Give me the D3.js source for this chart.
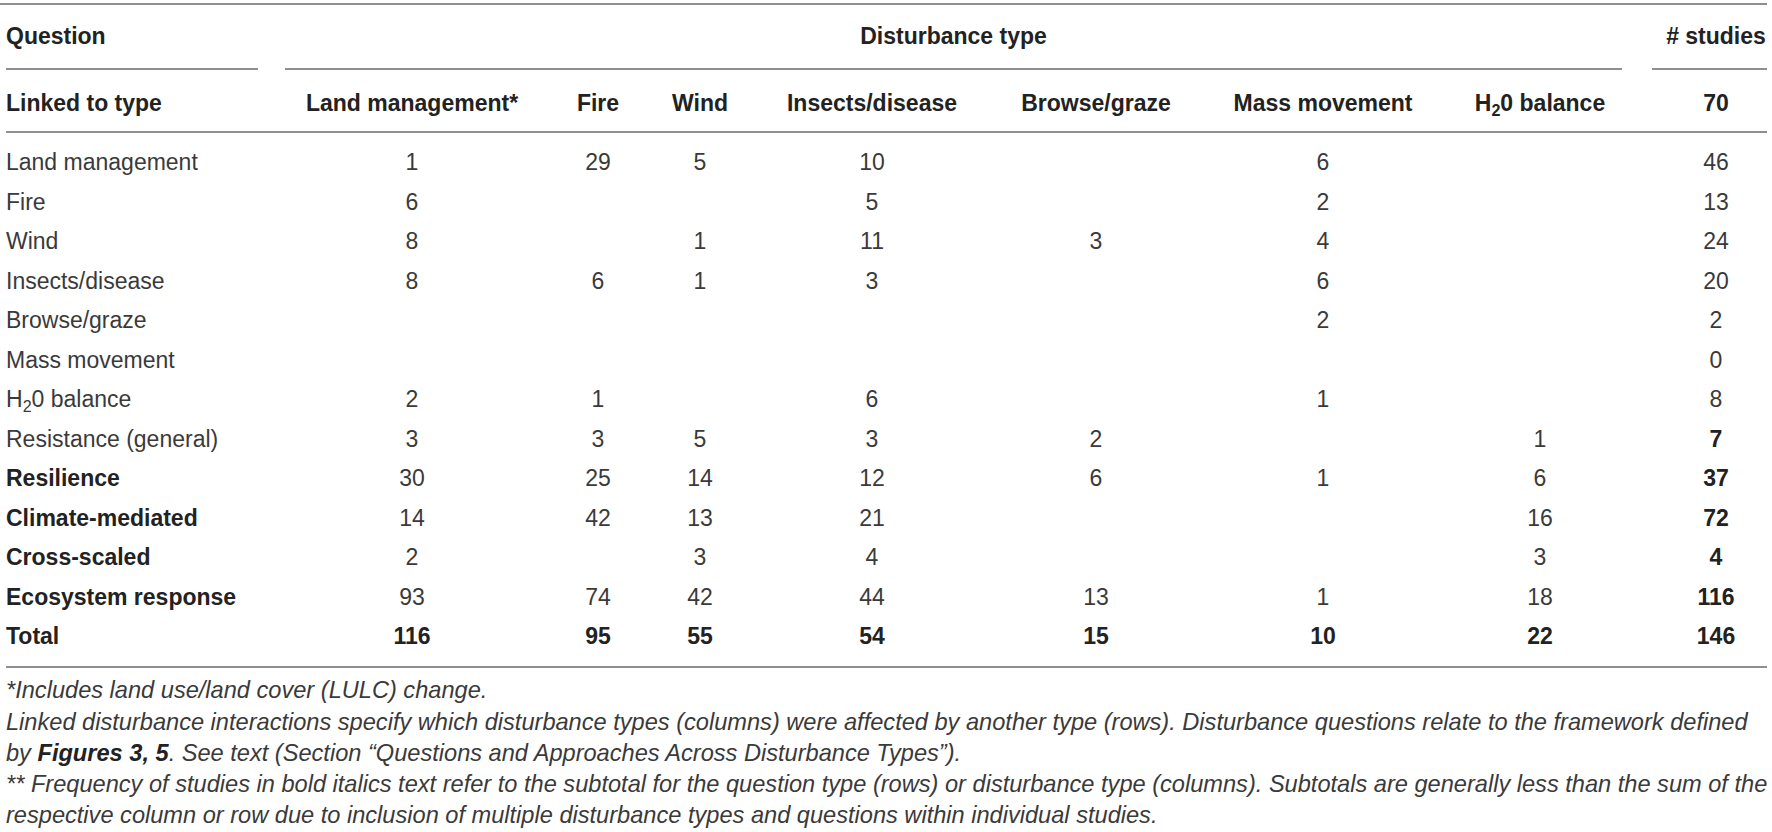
<!DOCTYPE html>
<html>
<head>
<meta charset="utf-8">
<script src="https://cdn.jsdelivr.net/npm/d3@7/dist/d3.min.js"></script>
<style>
  html, body { margin: 0; padding: 0; background: #fff; }
  svg { display: block; }
  text { font-family: "Liberation Sans", Arial, Helvetica, sans-serif; }
</style>
</head>
<body>
<svg id="chart" width="1772" height="832"></svg>
<script>
// ---------- DATA ----------
const columns = ["Land management*", "Fire", "Wind", "Insects/disease", "Browse/graze", "Mass movement", "H2O balance", "# studies"];
const headerTotal = "70";
const rowLabels = ["Land management", "Fire", "Wind", "Insects/disease", "Browse/graze", "Mass movement", "H2O balance",
  "Resistance (general)", "Resilience", "Climate-mediated", "Cross-scaled", "Ecosystem response", "Total"];
const boldRows = ["Resilience", "Climate-mediated", "Cross-scaled", "Ecosystem response", "Total"];
const values = [
  [1, 29, 5, 10, null, 6, null, 46],
  [6, null, null, 5, null, 2, null, 13],
  [8, null, 1, 11, 3, 4, null, 24],
  [8, 6, 1, 3, null, 6, null, 20],
  [null, null, null, null, null, 2, null, 2],
  [null, null, null, null, null, null, null, 0],
  [2, 1, null, 6, null, 1, null, 8],
  [3, 3, 5, 3, 2, null, 1, 7],
  [30, 25, 14, 12, 6, 1, 6, 37],
  [14, 42, 13, 21, null, null, 16, 72],
  [2, null, 3, 4, null, null, 3, 4],
  [93, 74, 42, 44, 13, 1, 18, 116],
  [116, 95, 55, 54, 15, 10, 22, 146]
];
const footnotes = [
  [{t: "*Includes land use/land cover (LULC) change."}],
  [{t: "Linked disturbance interactions specify which disturbance types (columns) were affected by another type (rows). Disturbance questions relate to the framework defined"}],
  [{t: "by "}, {t: "Figures 3, 5", b: true}, {t: ". See text (Section \u201cQuestions and Approaches Across Disturbance Types\u201d)."}],
  [{t: "** Frequency of studies in bold italics text refer to the subtotal for the question type (rows) or disturbance type (columns). Subtotals are generally less than the sum of the"}],
  [{t: "respective column or row due to inclusion of multiple disturbance types and questions within individual studies."}]
];

// ---------- LAYOUT ----------
const svg = d3.select("#chart");
const FS = 23;
const textColor = "#222";
const bodyColor = "#3a3a3a";
const ruleColor = "#8f8f8f";

const x = d3.scaleOrdinal().domain(columns).range([412, 598, 700, 872, 1096, 1323, 1540, 1716]);
const y = d3.scalePoint().domain(rowLabels).range([162, 636]);
const capOff = FS * 0.36;

// rules
const rules = [
  {x1: 0, x2: 1767, y: 4},
  {x1: 6, x2: 258, y: 69},
  {x1: 285, x2: 1622, y: 69},
  {x1: 1652, x2: 1767, y: 69},
  {x1: 6, x2: 1767, y: 132},
  {x1: 6, x2: 1767, y: 667}
];
svg.selectAll("line.rule").data(rules).join("line")
  .attr("class", "rule")
  .attr("x1", d => d.x1).attr("x2", d => d.x2)
  .attr("y1", d => d.y).attr("y2", d => d.y)
  .attr("stroke", ruleColor).attr("stroke-width", 2);

function addLabel(sel, label) {
  if (label.indexOf("H2O") === 0) {
    sel.append("tspan").text("H");
    sel.append("tspan").text("2").attr("font-size", FS * 0.7).attr("dy", FS * 0.22);
    sel.append("tspan").text("0" + label.slice(3)).attr("dy", -FS * 0.22);
  } else {
    sel.text(label);
  }
}

// header row 1
svg.append("text").attr("x", 6).attr("y", 36 + capOff)
  .attr("font-size", FS).attr("font-weight", "bold").attr("fill", textColor).text("Question");
svg.append("text").attr("x", (285 + 1622) / 2).attr("y", 36 + capOff)
  .attr("text-anchor", "middle")
  .attr("font-size", FS).attr("font-weight", "bold").attr("fill", textColor).text("Disturbance type");
svg.append("text").attr("x", x("# studies")).attr("y", 36 + capOff)
  .attr("text-anchor", "middle")
  .attr("font-size", FS).attr("font-weight", "bold").attr("fill", textColor).text("# studies");

// header row 2
const hy = 103 + capOff;
svg.append("text").attr("x", 6).attr("y", hy)
  .attr("font-size", FS).attr("font-weight", "bold").attr("fill", textColor).text("Linked to type");
svg.selectAll("text.colhead").data(columns).join("text")
  .attr("class", "colhead")
  .attr("x", d => x(d)).attr("y", hy)
  .attr("text-anchor", "middle")
  .attr("font-size", FS).attr("font-weight", "bold").attr("fill", textColor)
  .each(function(d) { addLabel(d3.select(this), d === "# studies" ? headerTotal : d); });

// row labels
svg.selectAll("text.rowlab").data(rowLabels).join("text")
  .attr("class", "rowlab")
  .attr("x", 6).attr("y", d => y(d) + capOff)
  .attr("font-size", FS)
  .attr("font-weight", d => boldRows.includes(d) ? "bold" : "normal")
  .attr("fill", d => boldRows.includes(d) ? textColor : bodyColor)
  .each(function(d) { addLabel(d3.select(this), d); });

// cells
const cells = [];
values.forEach((row, i) => row.forEach((v, j) => {
  if (v !== null) cells.push({row: rowLabels[i], col: columns[j], v: v,
    bold: rowLabels[i] === "Total" || (columns[j] === "# studies" && i >= 7)});
}));
svg.selectAll("text.cell").data(cells).join("text")
  .attr("class", "cell")
  .attr("x", d => x(d.col)).attr("y", d => y(d.row) + capOff)
  .attr("text-anchor", "middle")
  .attr("font-size", FS)
  .attr("font-weight", d => d.bold ? "bold" : "normal")
  .attr("fill", d => d.bold ? textColor : bodyColor)
  .text(d => d.v);

// footnotes
const FFS = 23.6;
const fy = d3.scaleLinear().domain([0, footnotes.length - 1]).range([690, 815]);
svg.selectAll("text.foot").data(footnotes).join("text")
  .attr("class", "foot")
  .attr("x", 6).attr("y", (d, i) => fy(i) + FFS * 0.36)
  .attr("font-size", FFS).attr("font-style", "italic").attr("fill", bodyColor)
  .each(function(parts) {
    const t = d3.select(this);
    parts.forEach(p => {
      const ts = t.append("tspan").text(p.t);
      if (p.b) ts.attr("font-weight", "bold").attr("fill", textColor);
    });
  });
</script>
</body>
</html>
